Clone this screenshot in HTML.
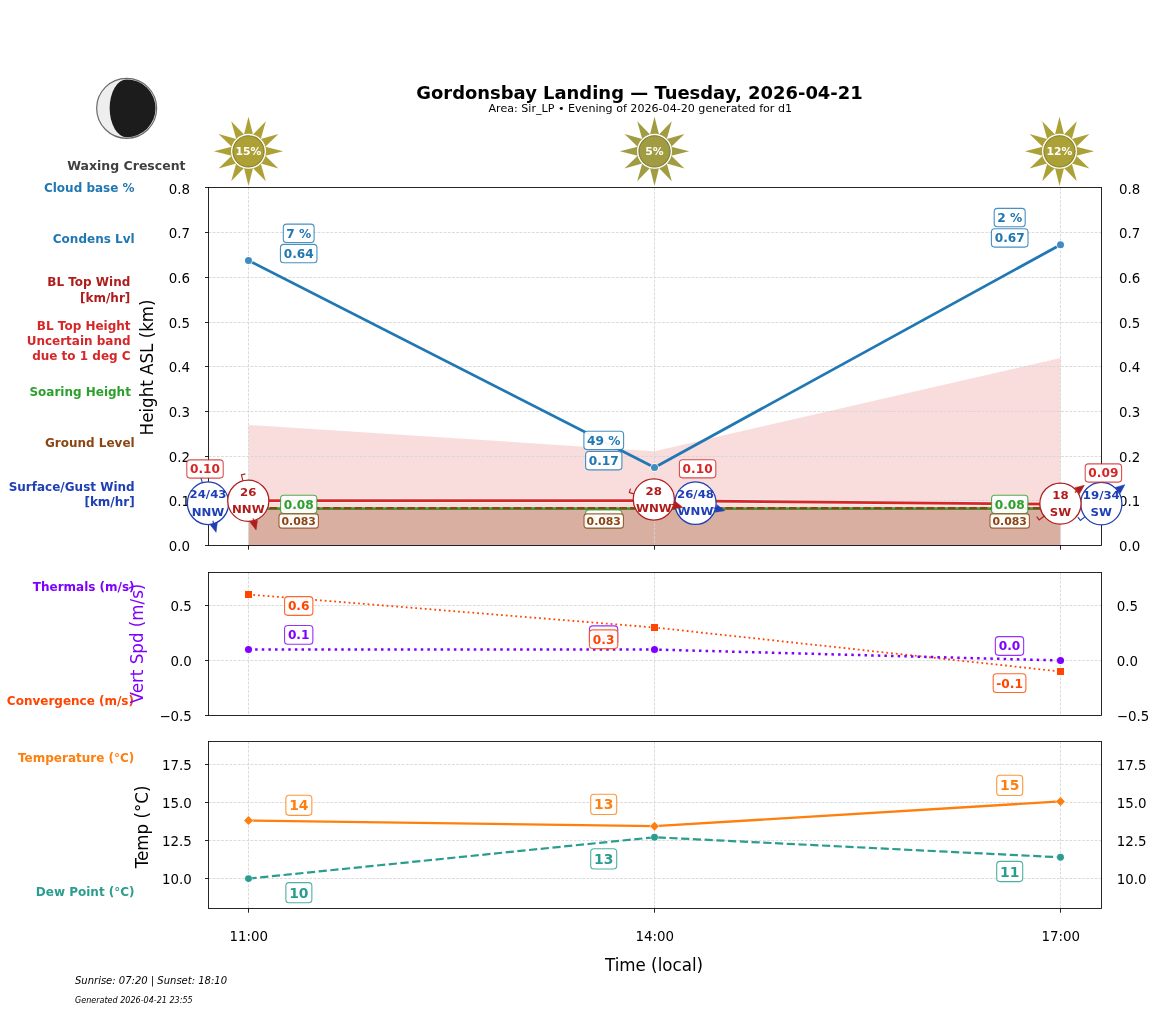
<!DOCTYPE html>
<html lang="en"><head><meta charset="utf-8"><title>Gordonsbay Landing forecast</title>
<style>html,body{margin:0;padding:0;background:#fff}svg{display:block}</style></head>
<body>
<svg width="1157" height="1011" viewBox="0 0 1157 1011" font-family='"DejaVu Sans","Liberation Sans",sans-serif'>
<style>.g{stroke:#d4d4d4;stroke-width:0.85;stroke-dasharray:2.75 1.45;fill:none}.sp{stroke:#000;stroke-width:0.85;fill:none}.tk{stroke:#000;stroke-width:0.85}</style>
<rect width="1157" height="1011" fill="#fff"/>
<text x="639.5" y="98.8" font-size="17.95" fill="#000" text-anchor="middle" font-weight="bold">Gordonsbay Landing — Tuesday, 2026-04-21</text>
<text x="640.3" y="112.1" font-size="11.1" fill="#000" text-anchor="middle" font-weight="normal">Area: Sir_LP • Evening of 2026-04-20 generated for d1</text>
<circle cx="126.65" cy="108.3" r="30.0" fill="#eeeeee" stroke="#6a6a6a" stroke-width="1.2"/>
<path d="M126.65,79.4 A28.9,28.9 0 0 1 126.65,137.2 A17,28.9 0 0 1 126.65,79.4 Z" fill="#1c1c1c"/>
<text x="126.4" y="169.7" font-size="12.5" fill="#404040" text-anchor="middle" font-weight="bold">Waxing Crescent</text>
<text x="134.6" y="191.6" font-size="12.0" fill="#1f77b4" text-anchor="end" font-weight="bold">Cloud base %</text>
<text x="134.6" y="242.7" font-size="12.0" fill="#1f77b4" text-anchor="end" font-weight="bold">Condens Lvl</text>
<text x="130.3" y="285.8" font-size="12.0" fill="#b01c1c" text-anchor="end" font-weight="bold">BL Top Wind</text>
<text x="130.3" y="302.4" font-size="12.0" fill="#b01c1c" text-anchor="end" font-weight="bold">[km/hr]</text>
<text x="130.6" y="329.7" font-size="12.0" fill="#d62728" text-anchor="end" font-weight="bold">BL Top Height</text>
<text x="130.6" y="344.7" font-size="12.0" fill="#d62728" text-anchor="end" font-weight="bold">Uncertain band</text>
<text x="130.6" y="359.7" font-size="12.0" fill="#d62728" text-anchor="end" font-weight="bold">due to 1 deg C</text>
<text x="130.9" y="395.9" font-size="12.0" fill="#2ca02c" text-anchor="end" font-weight="bold">Soaring Height</text>
<text x="134.7" y="446.8" font-size="12.0" fill="#8b4513" text-anchor="end" font-weight="bold">Ground Level</text>
<text x="134.7" y="490.5" font-size="12.0" fill="#1f3fb4" text-anchor="end" font-weight="bold">Surface/Gust Wind</text>
<text x="134.7" y="506.3" font-size="12.0" fill="#1f3fb4" text-anchor="end" font-weight="bold">[km/hr]</text>
<text x="134.6" y="590.5" font-size="12.0" fill="#7f00ff" text-anchor="end" font-weight="bold">Thermals (m/s)</text>
<text x="134.0" y="704.7" font-size="12.0" fill="#ff4500" text-anchor="end" font-weight="bold">Convergence (m/s)</text>
<text x="134.3" y="761.6" font-size="12.0" fill="#ff7f0e" text-anchor="end" font-weight="bold">Temperature (°C)</text>
<text x="134.6" y="895.6" font-size="12.0" fill="#2a9d8f" text-anchor="end" font-weight="bold">Dew Point (°C)</text>
<text transform="translate(153.1,367.4) rotate(-90) scale(1,1.07)" font-size="16.7" fill="#000" text-anchor="middle">Height ASL (km)</text>
<text transform="translate(143.2,643.5) rotate(-90) scale(1,1.07)" font-size="16.7" fill="#7f00ff" text-anchor="middle">Vert Spd (m/s)</text>
<text transform="translate(147.8,826.9) rotate(-90) scale(1,1.07)" font-size="16.7" fill="#000" text-anchor="middle">Temp (°C)</text>
<text transform="translate(654,970.6) scale(1,1.07)" font-size="16.7" text-anchor="middle">Time (local)</text>
<text x="75.0" y="983.7" font-size="10" fill="#000" text-anchor="start" font-weight="normal" font-style="italic">Sunrise: 07:20 | Sunset: 18:10</text>
<text x="75" y="1002.7" font-size="8.95" font-style="italic" font-family='"DejaVu Sans Condensed","DejaVu Sans",sans-serif' font-stretch="condensed">Generated 2026-04-21 23:55</text>
<polygon points="248.5,424.9 654.5,451.2 1060.5,357.9 1060.5,545.5 248.5,545.5" fill="#d62728" fill-opacity="0.155"/>
<rect x="248.5" y="508" width="812.0" height="37.5" fill="#8b4513" fill-opacity="0.30"/>
<line x1="208.5" x2="1101.5" y1="232.5" y2="232.5" class="g"/>
<line x1="208.5" x2="1101.5" y1="277.5" y2="277.5" class="g"/>
<line x1="208.5" x2="1101.5" y1="322.5" y2="322.5" class="g"/>
<line x1="208.5" x2="1101.5" y1="366.5" y2="366.5" class="g"/>
<line x1="208.5" x2="1101.5" y1="411.5" y2="411.5" class="g"/>
<line x1="208.5" x2="1101.5" y1="456.5" y2="456.5" class="g"/>
<line x1="208.5" x2="1101.5" y1="500.5" y2="500.5" class="g"/>
<line x1="248.5" x2="248.5" y1="187.5" y2="545.5" class="g"/>
<line x1="654.5" x2="654.5" y1="187.5" y2="545.5" class="g"/>
<line x1="1060.5" x2="1060.5" y1="187.5" y2="545.5" class="g"/>
<polyline points="248.5,260.4 654.5,467.5 1060.5,244.7" fill="none" stroke="#1f77b4" stroke-width="2.8" stroke-linejoin="round"/>
<circle cx="248.5" cy="260.4" r="3.5" fill="#fff" stroke="#fff" stroke-width="1.6"/>
<circle cx="248.5" cy="260.4" r="3.5" fill="#1f77b4" fill-opacity="0.85"/>
<circle cx="654.5" cy="467.5" r="3.5" fill="#fff" stroke="#fff" stroke-width="1.6"/>
<circle cx="654.5" cy="467.5" r="3.5" fill="#1f77b4" fill-opacity="0.85"/>
<circle cx="1060.5" cy="244.7" r="3.5" fill="#fff" stroke="#fff" stroke-width="1.6"/>
<circle cx="1060.5" cy="244.7" r="3.5" fill="#1f77b4" fill-opacity="0.85"/>
<polyline points="248.5,500.7 654.5,500.7 1060.5,504.2" fill="none" stroke="#fff" stroke-opacity="0.45" stroke-width="4.8"/>
<polyline points="248.5,500.7 654.5,500.7 1060.5,504.2" fill="none" stroke="#d62728" stroke-width="2.8"/>
<line x1="248.5" x2="1060.5" y1="508.65" y2="508.65" stroke="#43963a" stroke-width="2.6"/>
<line x1="248.5" x2="1060.5" y1="508.15" y2="508.15" stroke="#8b4513" stroke-width="2.1" stroke-dasharray="7.4 3.2"/>
<rect x="208.5" y="187.5" width="893.0" height="358.0" class="sp"/>
<line x1="205.0" x2="208.5" y1="187.5" y2="187.5" class="tk"/>
<text x="190.0" y="193.6" font-size="13.4" fill="#000" text-anchor="end" font-weight="normal">0.8</text>
<text x="1118.9" y="193.6" font-size="13.4" fill="#000" text-anchor="start" font-weight="normal">0.8</text>
<line x1="205.0" x2="208.5" y1="232.5" y2="232.5" class="tk"/>
<text x="190.0" y="237.9" font-size="13.4" fill="#000" text-anchor="end" font-weight="normal">0.7</text>
<text x="1118.9" y="237.9" font-size="13.4" fill="#000" text-anchor="start" font-weight="normal">0.7</text>
<line x1="205.0" x2="208.5" y1="277.5" y2="277.5" class="tk"/>
<text x="190.0" y="282.9" font-size="13.4" fill="#000" text-anchor="end" font-weight="normal">0.6</text>
<text x="1118.9" y="282.9" font-size="13.4" fill="#000" text-anchor="start" font-weight="normal">0.6</text>
<line x1="205.0" x2="208.5" y1="322.5" y2="322.5" class="tk"/>
<text x="190.0" y="327.9" font-size="13.4" fill="#000" text-anchor="end" font-weight="normal">0.5</text>
<text x="1118.9" y="327.9" font-size="13.4" fill="#000" text-anchor="start" font-weight="normal">0.5</text>
<line x1="205.0" x2="208.5" y1="366.5" y2="366.5" class="tk"/>
<text x="190.0" y="371.9" font-size="13.4" fill="#000" text-anchor="end" font-weight="normal">0.4</text>
<text x="1118.9" y="371.9" font-size="13.4" fill="#000" text-anchor="start" font-weight="normal">0.4</text>
<line x1="205.0" x2="208.5" y1="411.5" y2="411.5" class="tk"/>
<text x="190.0" y="416.9" font-size="13.4" fill="#000" text-anchor="end" font-weight="normal">0.3</text>
<text x="1118.9" y="416.9" font-size="13.4" fill="#000" text-anchor="start" font-weight="normal">0.3</text>
<line x1="205.0" x2="208.5" y1="456.5" y2="456.5" class="tk"/>
<text x="190.0" y="461.9" font-size="13.4" fill="#000" text-anchor="end" font-weight="normal">0.2</text>
<text x="1118.9" y="461.9" font-size="13.4" fill="#000" text-anchor="start" font-weight="normal">0.2</text>
<line x1="205.0" x2="208.5" y1="500.5" y2="500.5" class="tk"/>
<text x="190.0" y="505.9" font-size="13.4" fill="#000" text-anchor="end" font-weight="normal">0.1</text>
<text x="1118.9" y="505.9" font-size="13.4" fill="#000" text-anchor="start" font-weight="normal">0.1</text>
<line x1="205.0" x2="208.5" y1="545.5" y2="545.5" class="tk"/>
<text x="190.0" y="550.9" font-size="13.4" fill="#000" text-anchor="end" font-weight="normal">0.0</text>
<text x="1118.9" y="550.9" font-size="13.4" fill="#000" text-anchor="start" font-weight="normal">0.0</text>
<line x1="248.5" x2="248.5" y1="545.5" y2="549.7" class="tk"/>
<line x1="654.5" x2="654.5" y1="545.5" y2="549.7" class="tk"/>
<line x1="1060.5" x2="1060.5" y1="545.5" y2="549.7" class="tk"/>
<rect x="283.30" y="224.10" width="30.8" height="18.4" rx="3.3" fill="#fff" fill-opacity="0.94" stroke="#1f77b4" stroke-opacity="0.82" stroke-width="1.1"/>
<text x="298.70" y="237.75" font-size="12.2" fill="#1f77b4" text-anchor="middle" font-weight="bold">7 %</text>
<rect x="280.45" y="244.40" width="36.5" height="18.4" rx="3.3" fill="#fff" fill-opacity="0.94" stroke="#1f77b4" stroke-opacity="0.82" stroke-width="1.1"/>
<text x="298.70" y="258.05" font-size="12.2" fill="#1f77b4" text-anchor="middle" font-weight="bold">0.64</text>
<rect x="583.90" y="431.20" width="39.7" height="18.4" rx="3.3" fill="#fff" fill-opacity="0.94" stroke="#1f77b4" stroke-opacity="0.82" stroke-width="1.1"/>
<text x="603.75" y="444.85" font-size="12.2" fill="#1f77b4" text-anchor="middle" font-weight="bold">49 %</text>
<rect x="585.60" y="451.50" width="36.3" height="18.4" rx="3.3" fill="#fff" fill-opacity="0.94" stroke="#1f77b4" stroke-opacity="0.82" stroke-width="1.1"/>
<text x="603.75" y="465.15" font-size="12.2" fill="#1f77b4" text-anchor="middle" font-weight="bold">0.17</text>
<rect x="994.20" y="208.40" width="31" height="18.4" rx="3.3" fill="#fff" fill-opacity="0.94" stroke="#1f77b4" stroke-opacity="0.82" stroke-width="1.1"/>
<text x="1009.70" y="222.05" font-size="12.2" fill="#1f77b4" text-anchor="middle" font-weight="bold">2 %</text>
<rect x="991.40" y="228.70" width="36.6" height="18.4" rx="3.3" fill="#fff" fill-opacity="0.94" stroke="#1f77b4" stroke-opacity="0.82" stroke-width="1.1"/>
<text x="1009.70" y="242.35" font-size="12.2" fill="#1f77b4" text-anchor="middle" font-weight="bold">0.67</text>
<rect x="280.55" y="495.30" width="36.3" height="18.2" rx="3.3" fill="#fff" fill-opacity="0.94" stroke="#2ca02c" stroke-opacity="0.82" stroke-width="1.1"/>
<text x="298.70" y="508.85" font-size="12.2" fill="#2ca02c" text-anchor="middle" font-weight="bold">0.08</text>
<rect x="585.60" y="510.00" width="36.3" height="18.2" rx="3.3" fill="#fff" fill-opacity="0.94" stroke="#2ca02c" stroke-opacity="0.82" stroke-width="1.1"/>
<text x="603.75" y="523.55" font-size="12.2" fill="#2ca02c" text-anchor="middle" font-weight="bold">0.08</text>
<rect x="991.55" y="495.30" width="36.3" height="18.2" rx="3.3" fill="#fff" fill-opacity="0.94" stroke="#2ca02c" stroke-opacity="0.82" stroke-width="1.1"/>
<text x="1009.70" y="508.85" font-size="12.2" fill="#2ca02c" text-anchor="middle" font-weight="bold">0.08</text>
<rect x="279.00" y="513.85" width="39.4" height="14.3" rx="2.8" fill="#fff" fill-opacity="0.94" stroke="#8b4513" stroke-opacity="0.82" stroke-width="1.1"/>
<text x="298.70" y="524.96" font-size="10.85" fill="#8b4513" text-anchor="middle" font-weight="bold">0.083</text>
<rect x="584.05" y="513.85" width="39.4" height="14.3" rx="2.8" fill="#fff" fill-opacity="0.94" stroke="#8b4513" stroke-opacity="0.82" stroke-width="1.1"/>
<text x="603.75" y="524.96" font-size="10.85" fill="#8b4513" text-anchor="middle" font-weight="bold">0.083</text>
<rect x="990.00" y="513.85" width="39.4" height="14.3" rx="2.8" fill="#fff" fill-opacity="0.94" stroke="#8b4513" stroke-opacity="0.82" stroke-width="1.1"/>
<text x="1009.70" y="524.96" font-size="10.85" fill="#8b4513" text-anchor="middle" font-weight="bold">0.083</text>
<polyline points="202.76,484.31 200.84,477.37 204.79,476.28" fill="none" stroke="#1f3fb4" stroke-width="1.1" stroke-linejoin="miter"/>
<ellipse cx="208.0" cy="503.2" rx="20.6" ry="21.3" fill="#fff" stroke="#1f3fb4" stroke-width="1.25"/>
<line x1="212.86" y1="520.74" x2="213.64" y2="523.53" stroke="#1f3fb4" stroke-width="1.1"/>
<polygon points="209.93,524.56 216.07,532.30 217.35,522.50" fill="#1f3fb4" stroke="#1f3fb4" stroke-width="0.5" stroke-linejoin="miter"/>
<text transform="translate(208.0,498.30) scale(1.055,1)" font-size="11.15" fill="#1f3fb4" text-anchor="middle" font-weight="bold">24/43</text>
<text transform="translate(208.0,515.50) scale(1.055,1)" font-size="11.15" fill="#1f3fb4" text-anchor="middle" font-weight="bold">NNW</text>
<polyline points="676.52,498.24 669.55,496.44 670.58,492.47" fill="none" stroke="#1f3fb4" stroke-width="1.1" stroke-linejoin="miter"/>
<ellipse cx="695.5" cy="503.15" rx="20.6" ry="21.3" fill="#fff" stroke="#1f3fb4" stroke-width="1.25"/>
<line x1="713.12" y1="507.71" x2="715.93" y2="508.43" stroke="#1f3fb4" stroke-width="1.1"/>
<polygon points="714.96,512.16 724.74,510.71 716.89,504.71" fill="#1f3fb4" stroke="#1f3fb4" stroke-width="0.5" stroke-linejoin="miter"/>
<text transform="translate(695.5,498.25) scale(1.055,1)" font-size="11.15" fill="#1f3fb4" text-anchor="middle" font-weight="bold">26/48</text>
<text transform="translate(695.5,515.45) scale(1.055,1)" font-size="11.15" fill="#1f3fb4" text-anchor="middle" font-weight="bold">WNW</text>
<polyline points="1086.00,515.85 1080.38,520.36 1077.82,517.16" fill="none" stroke="#1f3fb4" stroke-width="1.1" stroke-linejoin="miter"/>
<ellipse cx="1101.3" cy="503.6" rx="20.6" ry="21.3" fill="#fff" stroke="#1f3fb4" stroke-width="1.25"/>
<line x1="1115.50" y1="492.22" x2="1117.77" y2="490.41" stroke="#1f3fb4" stroke-width="1.1"/>
<polygon points="1120.17,493.41 1124.87,484.72 1115.36,487.40" fill="#1f3fb4" stroke="#1f3fb4" stroke-width="0.5" stroke-linejoin="miter"/>
<text transform="translate(1101.3,498.70) scale(1.055,1)" font-size="11.15" fill="#1f3fb4" text-anchor="middle" font-weight="bold">19/34</text>
<text transform="translate(1101.3,515.90) scale(1.055,1)" font-size="11.15" fill="#1f3fb4" text-anchor="middle" font-weight="bold">SW</text>
<polyline points="243.23,481.87 241.36,474.91 245.32,473.85" fill="none" stroke="#b01c1c" stroke-width="1.1" stroke-linejoin="miter"/>
<ellipse cx="248.3" cy="500.8" rx="20.6" ry="20.6" fill="#fff" stroke="#b01c1c" stroke-width="1.25"/>
<line x1="253.01" y1="518.38" x2="253.76" y2="521.18" stroke="#b01c1c" stroke-width="1.1"/>
<polygon points="250.04,522.18 256.12,529.97 257.48,520.18" fill="#b01c1c" stroke="#b01c1c" stroke-width="0.5" stroke-linejoin="miter"/>
<text transform="translate(248.3,495.90) scale(1.055,1)" font-size="11.15" fill="#b01c1c" text-anchor="middle" font-weight="bold">26</text>
<text transform="translate(248.3,513.10) scale(1.055,1)" font-size="11.15" fill="#b01c1c" text-anchor="middle" font-weight="bold">NNW</text>
<polyline points="634.92,494.13 629.34,492.57 630.44,488.62" fill="none" stroke="#b01c1c" stroke-width="1.1" stroke-linejoin="miter"/>
<ellipse cx="653.8" cy="499.4" rx="20.6" ry="20.6" fill="#fff" stroke="#b01c1c" stroke-width="1.25"/>
<line x1="671.33" y1="504.29" x2="674.12" y2="505.07" stroke="#b01c1c" stroke-width="1.1"/>
<polygon points="673.09,508.78 682.89,507.52 675.16,501.37" fill="#b01c1c" stroke="#b01c1c" stroke-width="0.5" stroke-linejoin="miter"/>
<text transform="translate(653.8,494.50) scale(1.055,1)" font-size="11.15" fill="#b01c1c" text-anchor="middle" font-weight="bold">28</text>
<text transform="translate(653.8,511.70) scale(1.055,1)" font-size="11.15" fill="#b01c1c" text-anchor="middle" font-weight="bold">WNW</text>
<polyline points="1044.90,515.53 1039.19,519.91 1036.69,516.66" fill="none" stroke="#b01c1c" stroke-width="1.1" stroke-linejoin="miter"/>
<ellipse cx="1060.45" cy="503.6" rx="20.6" ry="20.6" fill="#fff" stroke="#b01c1c" stroke-width="1.25"/>
<line x1="1074.89" y1="492.52" x2="1077.19" y2="490.76" stroke="#b01c1c" stroke-width="1.1"/>
<polygon points="1079.53,493.81 1084.41,485.22 1074.85,487.70" fill="#b01c1c" stroke="#b01c1c" stroke-width="0.5" stroke-linejoin="miter"/>
<text transform="translate(1060.45,498.70) scale(1.055,1)" font-size="11.15" fill="#b01c1c" text-anchor="middle" font-weight="bold">18</text>
<text transform="translate(1060.45,515.90) scale(1.055,1)" font-size="11.15" fill="#b01c1c" text-anchor="middle" font-weight="bold">SW</text>
<rect x="186.80" y="459.90" width="36.4" height="18.2" rx="3.3" fill="#fff" fill-opacity="0.94" stroke="#d62728" stroke-opacity="0.82" stroke-width="1.1"/>
<text x="205.00" y="473.45" font-size="12.2" fill="#d62728" text-anchor="middle" font-weight="bold">0.10</text>
<rect x="679.40" y="459.70" width="36.4" height="18.2" rx="3.3" fill="#fff" fill-opacity="0.94" stroke="#d62728" stroke-opacity="0.82" stroke-width="1.1"/>
<text x="697.60" y="473.25" font-size="12.2" fill="#d62728" text-anchor="middle" font-weight="bold">0.10</text>
<rect x="1085.20" y="463.90" width="36.4" height="18.2" rx="3.3" fill="#fff" fill-opacity="0.94" stroke="#d62728" stroke-opacity="0.82" stroke-width="1.1"/>
<text x="1103.40" y="477.45" font-size="12.2" fill="#d62728" text-anchor="middle" font-weight="bold">0.09</text>
<polygon points="248.50,116.70 253.00,134.49 265.80,121.34 260.80,139.00 278.46,134.00 265.31,146.80 283.10,151.30 265.31,155.80 278.46,168.60 260.80,163.60 265.80,181.26 253.00,168.11 248.50,185.90 244.00,168.11 231.20,181.26 236.20,163.60 218.54,168.60 231.69,155.80 213.90,151.30 231.69,146.80 218.54,134.00 236.20,139.00 231.20,121.34 244.00,134.49" fill="#ada136"/>
<circle cx="248.5" cy="151.3" r="17.5" fill="#fff"/>
<circle cx="248.5" cy="151.3" r="15.6" fill="#ada136" stroke="#86832a" stroke-width="1.1"/>
<text x="248.5" y="154.65" font-size="10.8" fill="#fff" text-anchor="middle" font-weight="bold">15%</text>
<polygon points="654.50,116.70 659.00,134.49 671.80,121.34 666.80,139.00 684.46,134.00 671.31,146.80 689.10,151.30 671.31,155.80 684.46,168.60 666.80,163.60 671.80,181.26 659.00,168.11 654.50,185.90 650.00,168.11 637.20,181.26 642.20,163.60 624.54,168.60 637.69,155.80 619.90,151.30 637.69,146.80 624.54,134.00 642.20,139.00 637.20,121.34 650.00,134.49" fill="#a19c42"/>
<circle cx="654.5" cy="151.3" r="17.5" fill="#fff"/>
<circle cx="654.5" cy="151.3" r="15.6" fill="#a19c42" stroke="#7f7d35" stroke-width="1.1"/>
<text x="654.5" y="154.65" font-size="10.8" fill="#fff" text-anchor="middle" font-weight="bold">5%</text>
<polygon points="1059.50,116.70 1064.00,134.49 1076.80,121.34 1071.80,139.00 1089.46,134.00 1076.31,146.80 1094.10,151.30 1076.31,155.80 1089.46,168.60 1071.80,163.60 1076.80,181.26 1064.00,168.11 1059.50,185.90 1055.00,168.11 1042.20,181.26 1047.20,163.60 1029.54,168.60 1042.69,155.80 1024.90,151.30 1042.69,146.80 1029.54,134.00 1047.20,139.00 1042.20,121.34 1055.00,134.49" fill="#aca137"/>
<circle cx="1059.5" cy="151.3" r="17.5" fill="#fff"/>
<circle cx="1059.5" cy="151.3" r="15.6" fill="#aca137" stroke="#86832a" stroke-width="1.1"/>
<text x="1059.5" y="154.65" font-size="10.8" fill="#fff" text-anchor="middle" font-weight="bold">12%</text>
<line x1="208.5" x2="1101.5" y1="605.5" y2="605.5" class="g"/>
<line x1="208.5" x2="1101.5" y1="660.5" y2="660.5" class="g"/>
<line x1="248.5" x2="248.5" y1="572.5" y2="715.5" class="g"/>
<line x1="654.5" x2="654.5" y1="572.5" y2="715.5" class="g"/>
<line x1="1060.5" x2="1060.5" y1="572.5" y2="715.5" class="g"/>
<polyline points="248.5,594.5 654.5,627.5 1060.5,671.5" fill="none" stroke="#ff4500" stroke-width="1.8" stroke-dasharray="1.8 2.98"/>
<polyline points="248.5,649.55 654.5,649.55 1060.5,660.5" fill="none" stroke="#7f00ff" stroke-width="2.5" stroke-dasharray="2.5 4.125"/>
<rect x="245.0" y="591.0" width="7" height="7" fill="#ff4500" stroke="#fff" stroke-width="1" paint-order="stroke"/>
<rect x="651.0" y="624.0" width="7" height="7" fill="#ff4500" stroke="#fff" stroke-width="1" paint-order="stroke"/>
<rect x="1057.0" y="668.0" width="7" height="7" fill="#ff4500" stroke="#fff" stroke-width="1" paint-order="stroke"/>
<circle cx="248.5" cy="649.55" r="3.55" fill="#7f00ff" stroke="#fff" stroke-width="1" paint-order="stroke"/>
<circle cx="654.5" cy="649.55" r="3.55" fill="#7f00ff" stroke="#fff" stroke-width="1" paint-order="stroke"/>
<circle cx="1060.5" cy="660.5" r="3.55" fill="#7f00ff" stroke="#fff" stroke-width="1" paint-order="stroke"/>
<rect x="208.5" y="572.5" width="893.0" height="143.0" class="sp"/>
<line x1="205.0" x2="208.5" y1="605.5" y2="605.5" class="tk"/>
<text x="191.9" y="610.5" font-size="13.4" fill="#000" text-anchor="end" font-weight="normal">0.5</text>
<text x="1116.7" y="610.5" font-size="13.4" fill="#000" text-anchor="start" font-weight="normal">0.5</text>
<line x1="205.0" x2="208.5" y1="660.5" y2="660.5" class="tk"/>
<text x="191.9" y="665.5" font-size="13.4" fill="#000" text-anchor="end" font-weight="normal">0.0</text>
<text x="1116.7" y="665.5" font-size="13.4" fill="#000" text-anchor="start" font-weight="normal">0.0</text>
<line x1="205.0" x2="208.5" y1="715.5" y2="715.5" class="tk"/>
<text x="191.9" y="720.5" font-size="13.4" fill="#000" text-anchor="end" font-weight="normal">−0.5</text>
<text x="1116.7" y="720.5" font-size="13.4" fill="#000" text-anchor="start" font-weight="normal">−0.5</text>
<rect x="284.55" y="625.50" width="28.3" height="18.8" rx="3.3" fill="#fff" fill-opacity="0.94" stroke="#7f00ff" stroke-opacity="0.82" stroke-width="1.1"/>
<text x="298.70" y="639.35" font-size="12.2" fill="#7f00ff" text-anchor="middle" font-weight="bold">0.1</text>
<rect x="589.45" y="625.90" width="28.3" height="18.8" rx="3.3" fill="#fff" fill-opacity="0.94" stroke="#7f00ff" stroke-opacity="0.82" stroke-width="1.1"/>
<text x="603.60" y="639.75" font-size="12.2" fill="#7f00ff" text-anchor="middle" font-weight="bold">0.1</text>
<rect x="995.35" y="636.60" width="28.3" height="18.8" rx="3.3" fill="#fff" fill-opacity="0.94" stroke="#7f00ff" stroke-opacity="0.82" stroke-width="1.1"/>
<text x="1009.50" y="650.45" font-size="12.2" fill="#7f00ff" text-anchor="middle" font-weight="bold">0.0</text>
<rect x="284.55" y="596.60" width="28.3" height="18.8" rx="3.3" fill="#fff" fill-opacity="0.94" stroke="#ff4500" stroke-opacity="0.82" stroke-width="1.1"/>
<text x="298.70" y="610.45" font-size="12.2" fill="#ff4500" text-anchor="middle" font-weight="bold">0.6</text>
<rect x="589.45" y="629.85" width="28.3" height="18.8" rx="3.3" fill="#fff" fill-opacity="0.94" stroke="#ff4500" stroke-opacity="0.82" stroke-width="1.1"/>
<text x="603.60" y="643.70" font-size="12.2" fill="#ff4500" text-anchor="middle" font-weight="bold">0.3</text>
<rect x="993.20" y="673.70" width="32.7" height="18.8" rx="3.3" fill="#fff" fill-opacity="0.94" stroke="#ff4500" stroke-opacity="0.82" stroke-width="1.1"/>
<text x="1009.55" y="687.55" font-size="12.2" fill="#ff4500" text-anchor="middle" font-weight="bold">-0.1</text>
<line x1="208.5" x2="1101.5" y1="764.5" y2="764.5" class="g"/>
<line x1="208.5" x2="1101.5" y1="802.5" y2="802.5" class="g"/>
<line x1="208.5" x2="1101.5" y1="840.5" y2="840.5" class="g"/>
<line x1="208.5" x2="1101.5" y1="878.5" y2="878.5" class="g"/>
<line x1="248.5" x2="248.5" y1="741.5" y2="908.5" class="g"/>
<line x1="654.5" x2="654.5" y1="741.5" y2="908.5" class="g"/>
<line x1="1060.5" x2="1060.5" y1="741.5" y2="908.5" class="g"/>
<polyline points="248.5,878.6 654.5,837.25 1060.5,857.3" fill="none" stroke="#2a9d8f" stroke-width="2.2" stroke-dasharray="8.2 3.55"/>
<polyline points="248.5,820.5 654.5,826.2 1060.5,801.4" fill="none" stroke="#ff7f0e" stroke-width="2.3"/>
<circle cx="248.5" cy="878.6" r="3.45" fill="#2a9d8f" stroke="#fff" stroke-width="1" paint-order="stroke"/>
<circle cx="654.5" cy="837.25" r="3.45" fill="#2a9d8f" stroke="#fff" stroke-width="1" paint-order="stroke"/>
<circle cx="1060.5" cy="857.3" r="3.45" fill="#2a9d8f" stroke="#fff" stroke-width="1" paint-order="stroke"/>
<polygon points="244.1,820.5 248.5,816.0 252.9,820.5 248.5,825.0" fill="#ff7f0e" stroke="#fff" stroke-width="1" paint-order="stroke"/>
<polygon points="650.1,826.2 654.5,821.7 658.9,826.2 654.5,830.7" fill="#ff7f0e" stroke="#fff" stroke-width="1" paint-order="stroke"/>
<polygon points="1056.1,801.4 1060.5,796.9 1064.9,801.4 1060.5,805.9" fill="#ff7f0e" stroke="#fff" stroke-width="1" paint-order="stroke"/>
<rect x="208.5" y="741.5" width="893.0" height="167.0" class="sp"/>
<line x1="205.0" x2="208.5" y1="764.5" y2="764.5" class="tk"/>
<text x="191.9" y="769.5" font-size="13.4" fill="#000" text-anchor="end" font-weight="normal">17.5</text>
<text x="1116.7" y="769.5" font-size="13.4" fill="#000" text-anchor="start" font-weight="normal">17.5</text>
<line x1="205.0" x2="208.5" y1="802.5" y2="802.5" class="tk"/>
<text x="191.9" y="807.5" font-size="13.4" fill="#000" text-anchor="end" font-weight="normal">15.0</text>
<text x="1116.7" y="807.5" font-size="13.4" fill="#000" text-anchor="start" font-weight="normal">15.0</text>
<line x1="205.0" x2="208.5" y1="840.5" y2="840.5" class="tk"/>
<text x="191.9" y="845.5" font-size="13.4" fill="#000" text-anchor="end" font-weight="normal">12.5</text>
<text x="1116.7" y="845.5" font-size="13.4" fill="#000" text-anchor="start" font-weight="normal">12.5</text>
<line x1="205.0" x2="208.5" y1="878.5" y2="878.5" class="tk"/>
<text x="191.9" y="883.5" font-size="13.4" fill="#000" text-anchor="end" font-weight="normal">10.0</text>
<text x="1116.7" y="883.5" font-size="13.4" fill="#000" text-anchor="start" font-weight="normal">10.0</text>
<line x1="248.5" x2="248.5" y1="908.5" y2="912.7" class="tk"/>
<text x="248.7" y="940.8" font-size="13.4" fill="#000" text-anchor="middle" font-weight="normal">11:00</text>
<line x1="654.5" x2="654.5" y1="908.5" y2="912.7" class="tk"/>
<text x="654.7" y="940.8" font-size="13.4" fill="#000" text-anchor="middle" font-weight="normal">14:00</text>
<line x1="1060.5" x2="1060.5" y1="908.5" y2="912.7" class="tk"/>
<text x="1060.7" y="940.8" font-size="13.4" fill="#000" text-anchor="middle" font-weight="normal">17:00</text>
<rect x="285.85" y="795.20" width="26" height="20.2" rx="3.3" fill="#fff" fill-opacity="0.94" stroke="#ff7f0e" stroke-opacity="0.82" stroke-width="1.1"/>
<text x="298.85" y="810.37" font-size="13.9" fill="#ff7f0e" text-anchor="middle" font-weight="bold">14</text>
<rect x="590.70" y="794.30" width="26" height="20.2" rx="3.3" fill="#fff" fill-opacity="0.94" stroke="#ff7f0e" stroke-opacity="0.82" stroke-width="1.1"/>
<text x="603.70" y="809.47" font-size="13.9" fill="#ff7f0e" text-anchor="middle" font-weight="bold">13</text>
<rect x="996.70" y="775.30" width="26" height="20.2" rx="3.3" fill="#fff" fill-opacity="0.94" stroke="#ff7f0e" stroke-opacity="0.82" stroke-width="1.1"/>
<text x="1009.70" y="790.47" font-size="13.9" fill="#ff7f0e" text-anchor="middle" font-weight="bold">15</text>
<rect x="285.85" y="882.60" width="26" height="20.2" rx="3.3" fill="#fff" fill-opacity="0.94" stroke="#2a9d8f" stroke-opacity="0.82" stroke-width="1.1"/>
<text x="298.85" y="897.77" font-size="13.9" fill="#2a9d8f" text-anchor="middle" font-weight="bold">10</text>
<rect x="590.70" y="848.80" width="26" height="20.2" rx="3.3" fill="#fff" fill-opacity="0.94" stroke="#2a9d8f" stroke-opacity="0.82" stroke-width="1.1"/>
<text x="603.70" y="863.97" font-size="13.9" fill="#2a9d8f" text-anchor="middle" font-weight="bold">13</text>
<rect x="996.70" y="861.40" width="26" height="20.2" rx="3.3" fill="#fff" fill-opacity="0.94" stroke="#2a9d8f" stroke-opacity="0.82" stroke-width="1.1"/>
<text x="1009.70" y="876.57" font-size="13.9" fill="#2a9d8f" text-anchor="middle" font-weight="bold">11</text>
</svg>
</body></html>
